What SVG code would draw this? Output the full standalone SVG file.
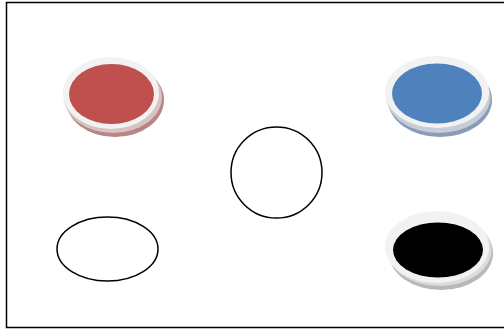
<svg xmlns="http://www.w3.org/2000/svg" width="504" height="331" viewBox="0 0 504 331">
<style>
.frame{fill:#fff;stroke:#000;stroke-width:1.5}
.ring{fill:#f2f2f2;stroke:none}
.plain{fill:#fff;stroke:#000;stroke-width:1.5}
</style>
<rect class="frame" x="6.5" y="2.5" width="510" height="325"/>
<g id="red">
<ellipse cx="115" cy="100" rx="49" ry="37" fill="#b78585"/>
<ellipse cx="113" cy="97" rx="49" ry="36" fill="#d9c2c2"/>
<ellipse class="ring" cx="111" cy="93" rx="48" ry="36"/>
<ellipse cx="111.5" cy="94" rx="42.5" ry="30" fill="#c0504d"/>
</g>
<g id="blue">
<ellipse cx="440" cy="100" rx="52" ry="37" fill="#8b9bb4"/>
<ellipse cx="438.5" cy="97" rx="52" ry="36" fill="#c5cdd8"/>
<ellipse class="ring" cx="437" cy="92" rx="52" ry="36"/>
<ellipse cx="437" cy="93.5" rx="45" ry="30" fill="#4f81bd"/>
</g>
<g id="black">
<ellipse cx="441" cy="253" rx="52" ry="37" fill="#b8b8b8"/>
<ellipse cx="439.5" cy="250" rx="52" ry="36" fill="#dcdcdc"/>
<ellipse class="ring" cx="437" cy="247" rx="52" ry="36"/>
<ellipse cx="438" cy="250" rx="45" ry="27.5" fill="#000"/>
</g>
<g id="circle">
<circle class="plain" cx="276.5" cy="172.5" r="45.5"/>
</g>
<g id="ellipse">
<ellipse class="plain" cx="107.5" cy="249" rx="50.5" ry="32"/>
</g>
<g id="connectors"></g>
</svg>
